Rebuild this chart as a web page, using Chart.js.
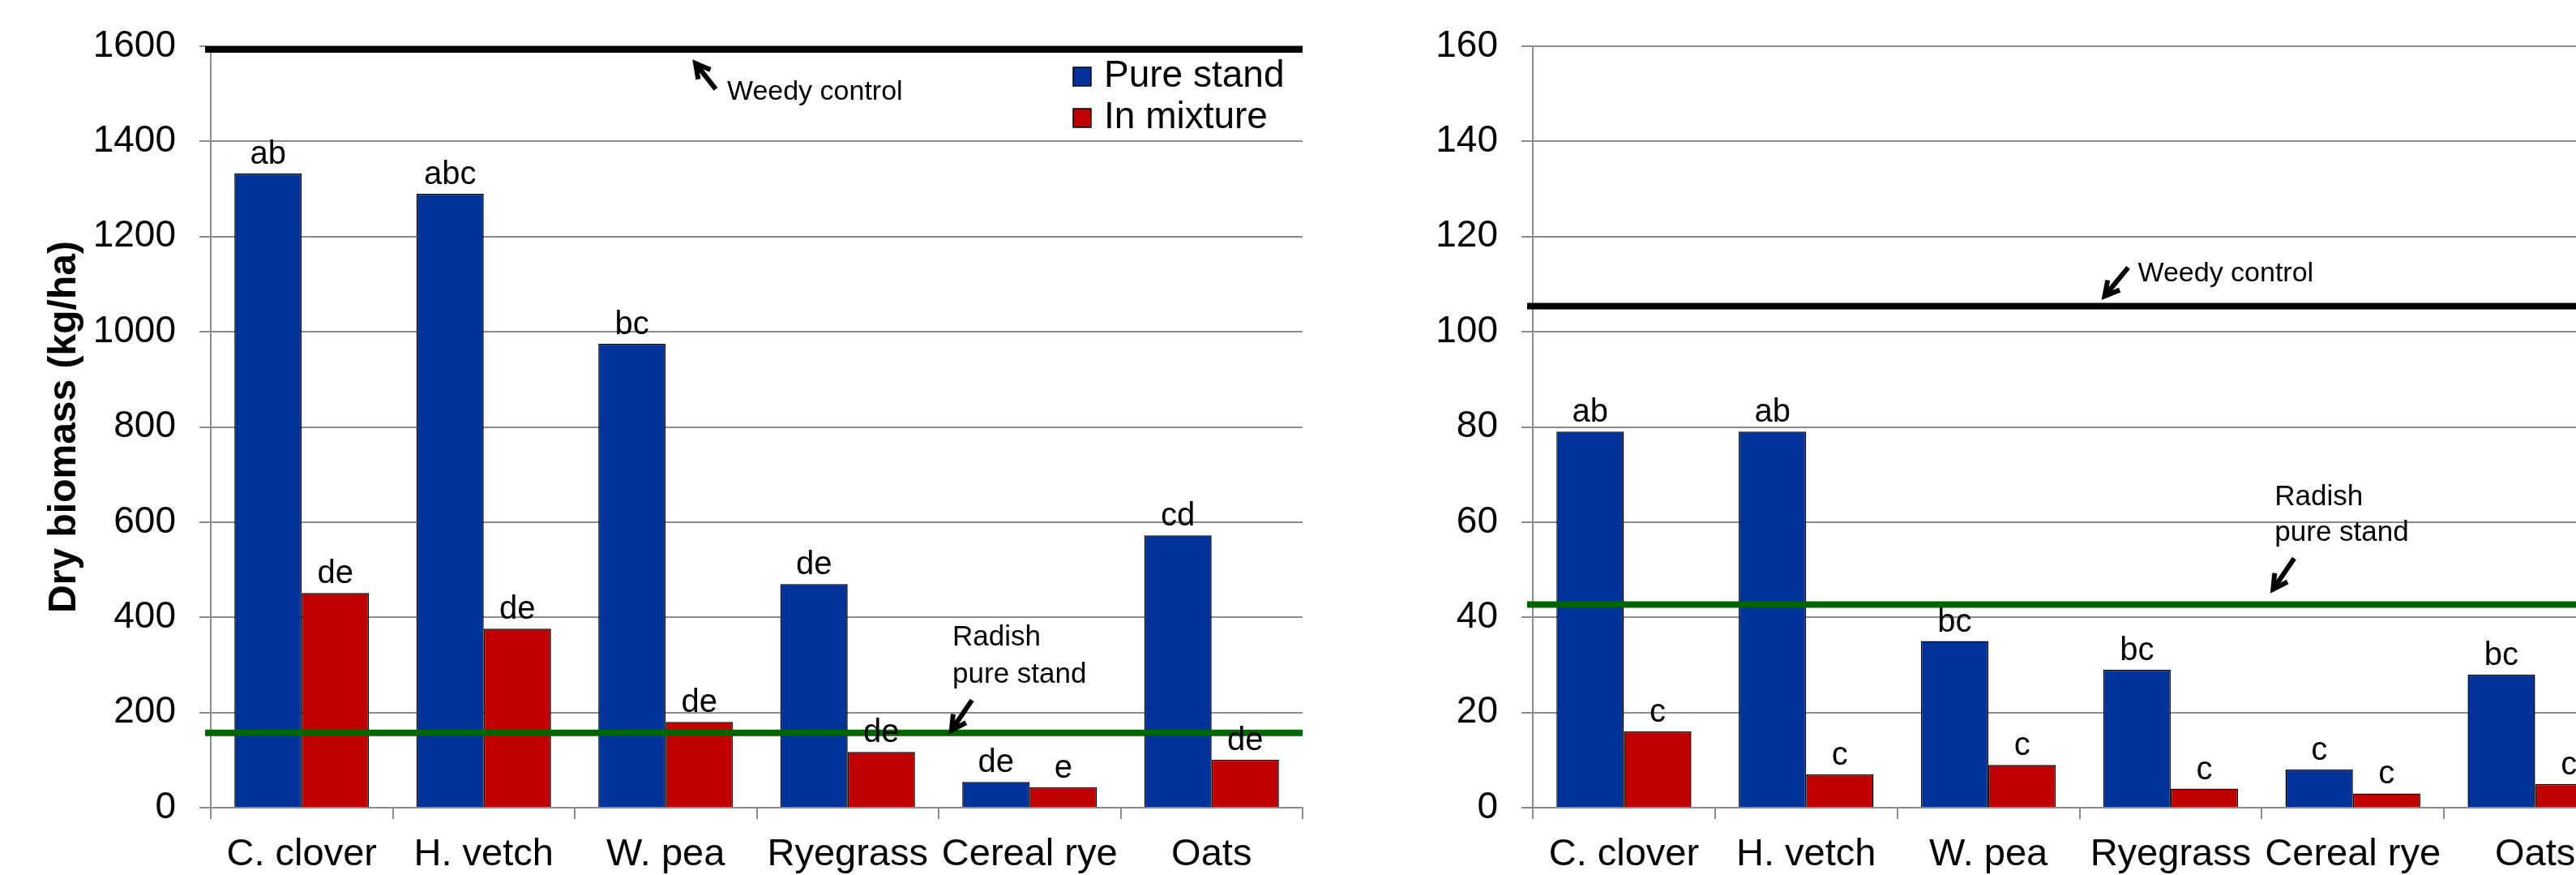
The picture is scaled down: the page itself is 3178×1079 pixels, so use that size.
<!DOCTYPE html>
<html>
<head>
<meta charset="utf-8">
<script src="https://cdn.jsdelivr.net/npm/chart.js@4.4.0/dist/chart.umd.min.js"></script>
<style>
  html, body { margin: 0; padding: 0; background: #fff; overflow: hidden; }
  body { width: 3178px; height: 1079px; position: relative; }
  canvas { position: absolute; top: 0; }
  #chartLeft { left: 0; }
  #chartRight { left: 1610px; }
</style>
</head>
<body>
<canvas id="chartLeft" width="1610" height="1079"></canvas>
<canvas id="chartRight" width="1633" height="1079"></canvas>
<script>
// data
const categories = ['C. clover', 'H. vetch', 'W. pea', 'Ryegrass', 'Cereal rye', 'Oats'];
const seriesNames = ['Pure stand', 'In mixture'];

const pureLeft = [1333, 1290, 975, 470, 54, 572];
const mixLeft = [451, 376, 180, 117, 43, 101];
const pureLettersLeft = ['ab', 'abc', 'bc', 'de', 'de', 'cd'];
const mixLettersLeft = ['de', 'de', 'de', 'de', 'e', 'de'];
const weedyLeft = 1593;
const radishLeft = 157;
const ticksLeft = [0, 200, 400, 600, 800, 1000, 1200, 1400, 1600];

const pureRight = [79, 79, 35, 29, 8, 28];
const mixRight = [16, 7, 9, 4, 3, 5];
const pureLettersRight = ['ab', 'ab', 'bc', 'bc', 'c', 'bc'];
const mixLettersRight = ['c', 'c', 'c', 'c', 'c', 'c'];
const weedyRight = 105.4;
const radishRight = 42.7;
const ticksRight = [0, 20, 40, 60, 80, 100, 120, 140, 160];

const FONT = "'Liberation Sans', Arial, sans-serif";
Chart.defaults.font.family = FONT;
Chart.defaults.color = '#000';

const BLUE = '#003399';
const RED = '#C00000';
const GREEN = '#006400';
const GRID = '#8c8c8c';

function drawArrow(ctx, x1, y1, x2, y2) {
    // tail (x1,y1) -> tip (x2,y2)
    const ang = Math.atan2(y2 - y1, x2 - x1);
    const h = 20;
    ctx.save();
    ctx.strokeStyle = '#000';
    ctx.lineWidth = 6;
    ctx.lineJoin = 'miter';
    ctx.beginPath();
    ctx.moveTo(x1, y1);
    ctx.lineTo(x2 - 4 * Math.cos(ang), y2 - 4 * Math.sin(ang));
    ctx.stroke();
    ctx.beginPath();
    ctx.moveTo(x2 - h * Math.cos(ang - 0.5), y2 - h * Math.sin(ang - 0.5));
    ctx.lineTo(x2, y2);
    ctx.lineTo(x2 - h * Math.cos(ang + 0.5), y2 - h * Math.sin(ang + 0.5));
    ctx.stroke();
    ctx.restore();
}

// reference lines, letters, notes and legend
const extrasPlugin = {
    id: 'extras',
    afterDatasetsDraw(chart, args, opts) {
        const ctx = chart.ctx;
        const xs = chart.scales.x, ys = chart.scales.y;
        const area = chart.chartArea;

        (opts.lines || []).forEach(l => {
            const y = ys.getPixelForValue(l.value);
            ctx.save();
            ctx.strokeStyle = l.color;
            ctx.lineWidth = 8;
            ctx.beginPath();
            ctx.moveTo(area.left - 7, y);
            ctx.lineTo(area.right, y);
            ctx.stroke();
            ctx.restore();
        });

        // significance letters
        ctx.save();
        ctx.font = '40px ' + FONT;
        ctx.fillStyle = '#000';
        ctx.textAlign = 'center';
        ctx.textBaseline = 'alphabetic';
        (opts.letters || []).forEach((set, di) => {
            chart.getDatasetMeta(di).data.forEach((bar, i) => {
                ctx.fillText(set[i], bar.x, bar.y - 12);
            });
        });
        ctx.restore();

        // notes with arrows
        (opts.notes || []).forEach(n => {
            ctx.save();
            ctx.font = n.size + 'px ' + FONT;
            ctx.fillStyle = '#000';
            ctx.textAlign = 'left';
            ctx.textBaseline = 'alphabetic';
            n.lines.forEach((t, k) => {
                ctx.fillText(t, xs.getPixelForValue(n.x), ys.getPixelForValue(n.y[k]));
            });
            ctx.restore();
            drawArrow(ctx,
                xs.getPixelForValue(n.tail[0]), ys.getPixelForValue(n.tail[1]),
                xs.getPixelForValue(n.tip[0]), ys.getPixelForValue(n.tip[1]));
        });

        if (opts.legend) {
            ctx.save();
            ctx.font = '46px ' + FONT;
            ctx.textAlign = 'left';
            ctx.textBaseline = 'alphabetic';
            chart.data.datasets.forEach((ds, i) => {
                const base = area.top + 50 + i * 51;
                const bx = area.right - 283;
                ctx.fillStyle = ds.backgroundColor;
                ctx.fillRect(bx, base - 24, 22, 23);
                ctx.strokeStyle = '#000';
                ctx.lineWidth = 1.5;
                ctx.strokeRect(bx, base - 24, 22, 23);
                ctx.fillStyle = '#000';
                ctx.fillText(ds.label, area.right - 245, base);
            });
            ctx.restore();
        }
    }
};

function makeChart(id, cfg) {
    const ctx = document.getElementById(id).getContext('2d');
    return new Chart(ctx, {
        type: 'bar',
        data: {
            labels: categories,
            datasets: [
                { label: seriesNames[0], data: cfg.pure, backgroundColor: BLUE, borderColor: '#000', borderWidth: 1.5 },
                { label: seriesNames[1], data: cfg.mix, backgroundColor: RED, borderColor: '#000', borderWidth: 1.5 }
            ]
        },
        options: {
            responsive: false,
            animation: false,
            layout: { padding: { top: 57, right: 3, bottom: 0, left: 0 } },
            datasets: { bar: { categoryPercentage: 0.74, barPercentage: 1.0 } },
            plugins: {
                legend: { display: false },
                tooltip: { enabled: false },
                extras: cfg.extras
            },
            scales: {
                x: {
                    grid: { offset: true, drawOnChartArea: false, tickLength: 14, color: GRID, lineWidth: 2 },
                    border: { color: GRID, width: 2 },
                    ticks: { font: { size: 47 }, color: '#000', padding: 16, maxRotation: 0, minRotation: 0, autoSkip: false },
                    afterFit: s => { s.height = 83; }
                },
                y: {
                    min: 0,
                    max: cfg.ticks[cfg.ticks.length - 1],
                    afterBuildTicks: s => { s.ticks = cfg.ticks.map(v => ({ value: v })); },
                    grid: { color: GRID, lineWidth: 2, tickLength: 14 },
                    border: { color: GRID, width: 2 },
                    ticks: { font: { size: 46 }, color: '#000', padding: 29, autoSkip: false, callback: v => String(v) },
                    title: cfg.title
                        ? { display: true, text: cfg.title, font: { size: 48, weight: 'bold' }, color: '#000', padding: { top: 51, bottom: 0 } }
                        : { display: false },
                    afterFit: s => { s.width = cfg.axisWidth; }
                }
            }
        },
        plugins: [extrasPlugin]
    });
}

makeChart('chartLeft', {
    pure: pureLeft,
    mix: mixLeft,
    ticks: ticksLeft,
    title: 'Dry biomass (kg/ha)',
    axisWidth: 260,
    extras: {
        lines: [{ value: weedyLeft, color: '#000' }, { value: radishLeft, color: GREEN }],
        letters: [pureLettersLeft, mixLettersLeft],
        legend: true,
        notes: [
            { lines: ['Weedy control'], size: 34, x: 2.337, y: [1488], tail: [2.275, 1510], tip: [2.164, 1564] },
            { lines: ['Radish', 'pure stand'], size: 35, x: 3.576, y: [340, 263], tail: [3.683, 226], tip: [3.571, 163] }
        ]
    }
});

makeChart('chartRight', {
    pure: pureRight,
    mix: mixRight,
    ticks: ticksRight,
    title: null,
    axisWidth: 281,
    extras: {
        lines: [{ value: weedyRight, color: '#000' }, { value: radishRight, color: GREEN }],
        letters: [pureLettersRight, mixLettersRight],
        legend: false,
        notes: [
            { lines: ['Weedy control'], size: 34, x: 2.82, y: [110.6], tail: [2.767, 113.5], tip: [2.638, 107.5] },
            { lines: ['Radish', 'pure stand'], size: 35, x: 3.571, y: [63.6, 56.1], tail: [3.678, 52.4], tip: [3.562, 45.9] }
        ]
    }
});
</script>
</body>
</html>
